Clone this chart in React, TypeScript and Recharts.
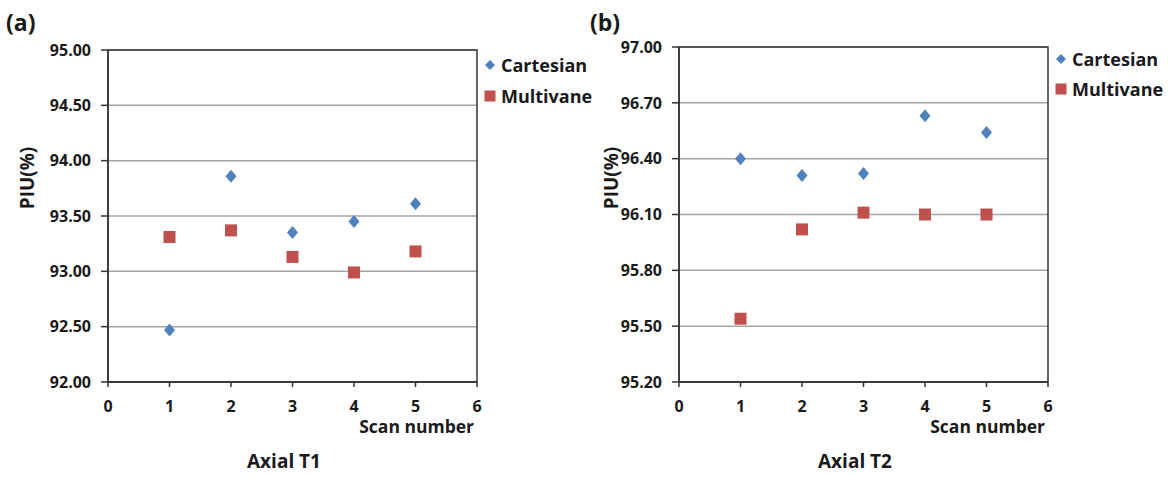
import { ReferenceArea, CartesianGrid, Label, Scatter, ScatterChart, XAxis, YAxis } from "recharts";

// scan numbers on the x axis
const scanNumbers = [1, 2, 3, 4, 5];
const xTicks = [0, 1, 2, 3, 4, 5, 6];

// PIU (%) per scan
const t1Cartesian = [92.47, 93.86, 93.35, 93.45, 93.61];
const t1Multivane = [93.31, 93.37, 93.13, 92.99, 93.18];
const t2Cartesian = [96.4, 96.31, 96.32, 96.63, 96.54];
const t2Multivane = [95.54, 96.02, 96.11, 96.1, 96.1];

const t1Ticks = [92, 92.5, 93, 93.5, 94, 94.5, 95];
const t2Ticks = [95.2, 95.5, 95.8, 96.1, 96.4, 96.7, 97];

const seriesNames = ["Cartesian", "Multivane"];
const BLUE = "#4f81bd";
const RED = "#c0504d";
const FONT = "'Open Sans', sans-serif";
const INK = "#1a1a1a";

const toPoints = (ys: number[]) => scanNumbers.map((x, i) => ({ x, y: ys[i] }));

const Diamond = (props: any) => {
  const { cx, cy } = props;
  return <path d={`M${cx},${cy - 6.5} L${cx + 5.5},${cy} L${cx},${cy + 6.5} L${cx - 5.5},${cy} Z`} fill={BLUE} />;
};

const Square = (props: any) => {
  const { cx, cy } = props;
  return <rect x={cx - 6} y={cy - 6} width={12} height={12} fill={RED} />;
};

const tickStyle = { fontFamily: FONT, fontSize: 16, fontWeight: 700, fill: INK };

interface PanelProps {
  letter: string;
  title: string;
  left: number;
  plotLeft: number;
  plotTop: number;
  cartesian: number[];
  multivane: number[];
  yTicks: number[];
  legendTop: number;
  legendGap: number;
}

function Panel({ letter, title, left, plotLeft, plotTop, cartesian, multivane, yTicks, legendTop, legendGap }: PanelProps) {
  const width = 584;
  const height = 477;
  const plotRight = plotLeft + 369;
  const yMin = yTicks[0];
  const yMax = yTicks[yTicks.length - 1];
  return (
    <div style={{ position: "absolute", left, top: 0, width, height }}>
      <ScatterChart
        width={width}
        height={height}
        margin={{ top: plotTop, bottom: 65, left: plotLeft - 60, right: width - plotRight }}
      >
        <CartesianGrid horizontal vertical={false} stroke="#a6a6a6" strokeWidth={1.5} />
        <XAxis
          type="number"
          dataKey="x"
          height={30}
          domain={[0, 6]}
          ticks={xTicks}
          interval={0}
          tick={tickStyle}
          tickSize={5}
          tickMargin={14}
          axisLine={{ stroke: "#333", strokeWidth: 1.5 }}
          tickLine={{ stroke: "#333", strokeWidth: 1.5 }}
        >
          <Label
            content={(p: any) => {
              const vb = p.viewBox;
              return (
                <text x={vb.x + vb.width - 3} y={vb.y + 51} textAnchor="end" style={{ ...tickStyle, fontSize: 17.5 }}>
                  Scan number
                </text>
              );
            }}
          />
        </XAxis>
        <YAxis
          type="number"
          dataKey="y"
          width={60}
          domain={[yMin, yMax]}
          ticks={yTicks}
          interval={0}
          tickFormatter={(v: number) => v.toFixed(2)}
          tick={tickStyle}
          tickSize={7}
          tickMargin={10}
          axisLine={{ stroke: "#333", strokeWidth: 1.5 }}
          tickLine={{ stroke: "#333", strokeWidth: 1.5 }}
        />
        <ReferenceArea
          x1={0}
          x2={6}
          y1={yMin}
          y2={yMax}
          fill="none"
          stroke="#333"
          strokeWidth={1.5}
          ifOverflow="visible"
        />
        <Scatter name={seriesNames[0]} data={toPoints(cartesian)} shape={Diamond} isAnimationActive={false} />
        <Scatter name={seriesNames[1]} data={toPoints(multivane)} shape={Square} isAnimationActive={false} />
      </ScatterChart>

      {/* panel letter */}
      <div style={{ position: "absolute", left: 6, top: 6, fontFamily: FONT, fontWeight: 700, fontSize: 23, color: INK }}>
        {letter}
      </div>

      {/* y axis title */}
      <div
        style={{
          position: "absolute",
          left: 27 - 40,
          top: 178 - 13,
          width: 80,
          height: 26,
          lineHeight: "26px",
          textAlign: "center",
          transform: "rotate(-90deg)",
          fontFamily: FONT,
          fontWeight: 700,
          fontSize: 19,
          color: INK,
        }}
      >
        PIU(%)
      </div>

      {/* legend */}
      <div style={{ position: "absolute", left: plotRight + 6, top: legendTop - 12, fontFamily: FONT, fontWeight: 700, fontSize: 18, color: INK }}>
        {seriesNames.map((name, i) => (
          <div key={name} style={{ display: "flex", alignItems: "center", height: 24, marginBottom: i === 0 ? legendGap - 24 : 0 }}>
            <svg width={14} height={14} style={{ marginRight: 4 }}>
              {i === 0 ? (
                <path d="M7,2 L12,7 L7,12 L2,7 Z" fill={BLUE} />
              ) : (
                <rect x={1.5} y={1.5} width={11} height={11} fill={RED} />
              )}
            </svg>
            <span>{name}</span>
          </div>
        ))}
      </div>

      {/* panel caption */}
      <div
        style={{
          position: "absolute",
          left: plotLeft + 184 - 100 - 8,
          top: 448,
          width: 200,
          textAlign: "center",
          fontFamily: FONT,
          fontWeight: 700,
          fontSize: 19,
          color: INK,
        }}
      >
        {title}
      </div>
    </div>
  );
}

export default function App() {
  return (
    <div style={{ position: "relative", width: 1168, height: 477, background: "#fff", overflow: "hidden" }}>
      <style>{"body{margin:0}"}</style>
      <Panel
        letter="(a)"
        title="Axial T1"
        left={0}
        plotLeft={108}
        plotTop={50}
        cartesian={t1Cartesian}
        multivane={t1Multivane}
        yTicks={t1Ticks}
        legendTop={65}
        legendGap={31}
      />
      <Panel
        letter="(b)"
        title="Axial T2"
        left={584}
        plotLeft={95}
        plotTop={47}
        cartesian={t2Cartesian}
        multivane={t2Multivane}
        yTicks={t2Ticks}
        legendTop={59}
        legendGap={30}
      />
    </div>
  );
}
